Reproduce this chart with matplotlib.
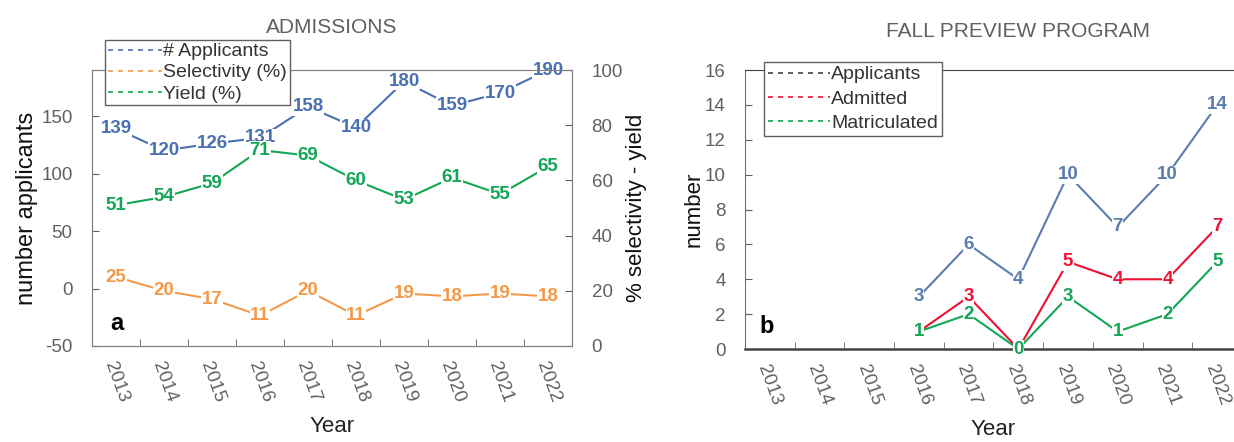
import matplotlib
matplotlib.use("Agg")
import matplotlib.pyplot as plt
from matplotlib.lines import Line2D

plt.rcParams['font.family'] = ['Liberation Sans', 'DejaVu Sans']
plt.rcParams['axes.unicode_minus'] = False

years = [2013, 2014, 2015, 2016, 2017, 2018, 2019, 2020, 2021, 2022]

# admissions
applicants = [139, 120, 126, 131, 158, 140, 180, 159, 170, 190]
selectivity = [25, 20, 17, 11, 20, 11, 19, 18, 19, 18]
yield_pct = [51, 54, 59, 71, 69, 60, 53, 61, 55, 65]

# fall preview program (starts 2016)
fp_years = [2016, 2017, 2018, 2019, 2020, 2021, 2022]
fp_applicants = [3, 6, 4, 10, 7, 10, 14]
fp_admitted = [1, 3, 0, 5, 4, 4, 7]
fp_matric = [1, 2, 0, 3, 1, 2, 5]

c_blue = '#4a70b4'
c_orange = '#f39a4a'
c_green = '#12a655'
c_red = '#ee1133'
c_fpblue = '#5a7cae'
grey = '#606060'


def labelled_line(ax, x, y, color, fs=13.5):
    ax.plot(x, y, color=color, lw=1.5, zorder=2)
    for xi, yi in zip(x, y):
        ax.text(xi, yi, str(yi), color=color, fontsize=fs, fontweight='bold',
                ha='center', va='center', zorder=3,
                bbox=dict(facecolor='white', edgecolor='none', pad=0.3))


def style_xaxis(ax):
    ax.set_xlim(2012.5, 2022.5)
    ax.set_xticks(years)
    ax.set_xticklabels([str(y) for y in years], rotation=-70, ha='center', va='top',
                       fontsize=13.5, color=grey)
    ax.tick_params(axis='x', which='major', length=0, pad=10)
    ax.set_xticks([y + 0.5 for y in years[:-1]], minor=True)
    ax.tick_params(axis='x', which='minor', direction='in', length=5, color=grey)
    ax.set_xlabel('Year', fontsize=16, color='#222222', labelpad=8)


fig = plt.figure(figsize=(12.34, 4.42), dpi=100)

# ---- panel a ----
ax1 = fig.add_axes([0.0746, 0.2172, 0.389, 0.6244])
ax2 = ax1.twinx()
ax1.set_ylim(-50, 190)
ax2.set_ylim(0, 100)
ax1.set_yticks([-50, 0, 50, 100, 150])
ax2.set_yticks([0, 20, 40, 60, 80, 100])
for a in (ax1, ax2):
    a.tick_params(axis='y', direction='in', length=5, labelsize=13.5, colors=grey, pad=14)
    for s in a.spines.values():
        s.set_color('#808080')
style_xaxis(ax1)

labelled_line(ax1, years, applicants, c_blue)
labelled_line(ax2, years, selectivity, c_orange)
labelled_line(ax2, years, yield_pct, c_green)

ax1.set_ylabel('number applicants', fontsize=17, color='#111111', labelpad=2)
ax2.set_ylabel('% selectivity - yield', fontsize=16, color='#111111', labelpad=2)
ax1.set_title('ADMISSIONS', fontsize=15, color=grey, pad=27, x=0.5)
ax1.text(0.038, 0.04, 'a', transform=ax1.transAxes, fontsize=17, fontweight='bold',
         ha='left', va='bottom')

h1 = [Line2D([], [], color=c, ls=(0, (3, 3)), lw=1.2) for c in (c_blue, c_orange, c_green)]
fig.legend(h1, ['# Applicants', 'Selectivity (%)', 'Yield (%)'],
           loc='upper left', bbox_to_anchor=(0.0851, 0.91), fontsize=14,
           handlelength=2.8, handletextpad=0.05, labelspacing=0.18, borderpad=0.15,
           borderaxespad=0, frameon=True, fancybox=False, edgecolor='#606060',
           framealpha=1, labelcolor='#333333')

# ---- panel b ----
ax3 = fig.add_axes([0.6037, 0.2104, 0.4028, 0.631])
ax3.set_ylim(0, 16)
ax3.set_yticks(range(0, 17, 2))
ax3.tick_params(axis='y', direction='in', length=5, labelsize=13.5, colors=grey, pad=14)
style_xaxis(ax3)
for s in ax3.spines.values():
    s.set_color('#444444')
ax3.spines['left'].set_color('#707070')
ax3.spines['bottom'].set_linewidth(1.8)

labelled_line(ax3, fp_years, fp_applicants, c_fpblue)
labelled_line(ax3, fp_years, fp_admitted, c_red)
labelled_line(ax3, fp_years, fp_matric, c_green)

ax3.set_ylabel('number', fontsize=16, color='#111111', labelpad=0)
ax3.set_title('FALL PREVIEW PROGRAM', fontsize=15, color=grey, pad=24, x=0.55)
ax3.text(0.03, 0.04, 'b', transform=ax3.transAxes, fontsize=17, fontweight='bold',
         ha='left', va='bottom')

h2 = [Line2D([], [], color=c, ls=(0, (3, 3)), lw=1.2) for c in ('#444444', c_red, c_green)]
fig.legend(h2, ['Applicants', 'Admitted', 'Matriculated'],
           loc='upper left', bbox_to_anchor=(0.619, 0.86), fontsize=14,
           handlelength=3.2, handletextpad=0.05, labelspacing=0.35, borderpad=0.2,
           borderaxespad=0, frameon=True, fancybox=False, edgecolor='#606060',
           framealpha=1, labelcolor='#333333')

fig.savefig('out.png', dpi=100)
